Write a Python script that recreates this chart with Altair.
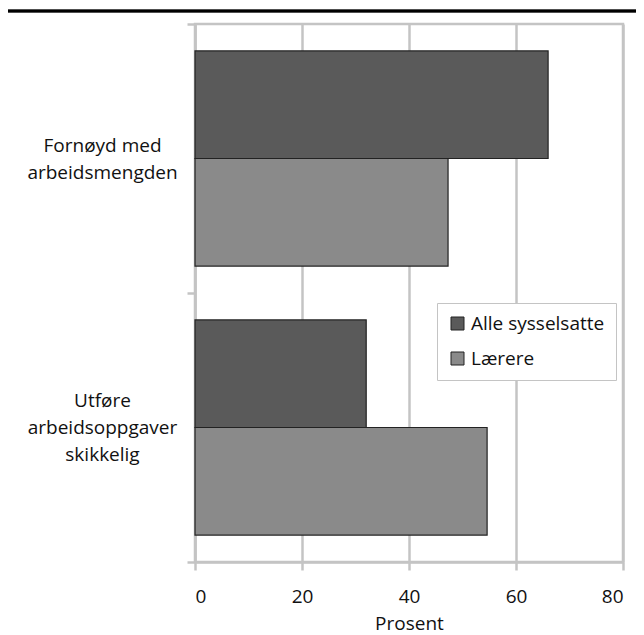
import altair as alt
import pandas as pd

categories = ["Fornøyd med|arbeidsmengden", "Utføre|arbeidsoppgaver|skikkelig"]
series = ["Alle sysselsatte", "Lærere"]
alle_sysselsatte = [66, 32]
laerere = [47.3, 54.6]
x_ticks = [0, 20, 40, 60, 80]

rows = []
for c, a, l in zip(categories, alle_sysselsatte, laerere):
    rows.append({"kategori": c, "serie": series[0], "verdi": a})
    rows.append({"kategori": c, "serie": series[1], "verdi": l})
df = pd.DataFrame(rows)

FONT = "Open Sans"
GRID = "#c4c4c4"
FS = 19
LH = 27

bars = alt.Chart(df).mark_bar(stroke="#222222", strokeWidth=1.2).encode(
    x=alt.X("verdi:Q",
            scale=alt.Scale(domain=[0, 80], nice=False),
            axis=alt.Axis(values=x_ticks, title="Prosent", grid=True,
                          gridColor=GRID, gridWidth=2.5,
                          domainColor=GRID, domainWidth=2.5,
                          tickColor=GRID, tickWidth=2.5, tickSize=8,
                          labelFont=FONT, labelFontSize=FS, labelColor="#111111",
                          labelPadding=17, titleFont=FONT, titleFontSize=FS,
                          titleFontWeight="normal", titleColor="#111111",
                          titlePadding=8)),
    y=alt.Y("kategori:N", sort=categories,
            scale=alt.Scale(paddingInner=0, paddingOuter=0),
            axis=alt.Axis(title=None, grid=False, tickBand="extent",
                          domainColor=GRID, domainWidth=2.5,
                          tickColor=GRID, tickWidth=2.5, tickSize=8,
                          labelExpr="split(datum.label, '|')",
                          labelAlign="center", labelBaseline="middle",
                          labelOffset={"condition": {"test": "length(split(datum.value, '|')) == 2",
                                                     "value": -LH / 2},
                                       "value": -LH},
                          labelPadding=85, labelLineHeight=LH,
                          labelFont=FONT, labelFontSize=FS, labelColor="#111111")),
    yOffset=alt.YOffset("serie:N", sort=series,
                        scale=alt.Scale(paddingInner=0, paddingOuter=0.25)),
    color=alt.Color("serie:N", sort=series,
                    scale=alt.Scale(domain=series, range=["#5a5a5a", "#8a8a8a"]),
                    legend=alt.Legend(title=None, orient="none", legendX=242, legendY=279,
                                      symbolType="square", symbolSize=169,
                                      symbolStrokeColor="#222222", symbolStrokeWidth=1,
                                      labelFont=FONT, labelFontSize=FS, labelColor="#111111",
                                      labelOffset=4, rowPadding=15,
                                      fillColor="white", strokeColor=GRID,
                                      padding=11, labelLimit=300)),
)

top_line = alt.Chart(df).mark_rule(color="black", strokeWidth=2.5, clip=False).encode(
    x=alt.value(-200), x2=alt.value(700), y=alt.value(-13)
)

chart = alt.layer(bars, top_line).properties(
    width=428, height=538,
    autosize=alt.AutoSizeParams(type="none"),
    padding={"left": 187, "top": 16, "right": 13, "bottom": 78},
).configure_view(stroke=GRID, strokeWidth=2.5)

chart.save("out.html", embed_options={"renderer": "svg", "actions": False})
